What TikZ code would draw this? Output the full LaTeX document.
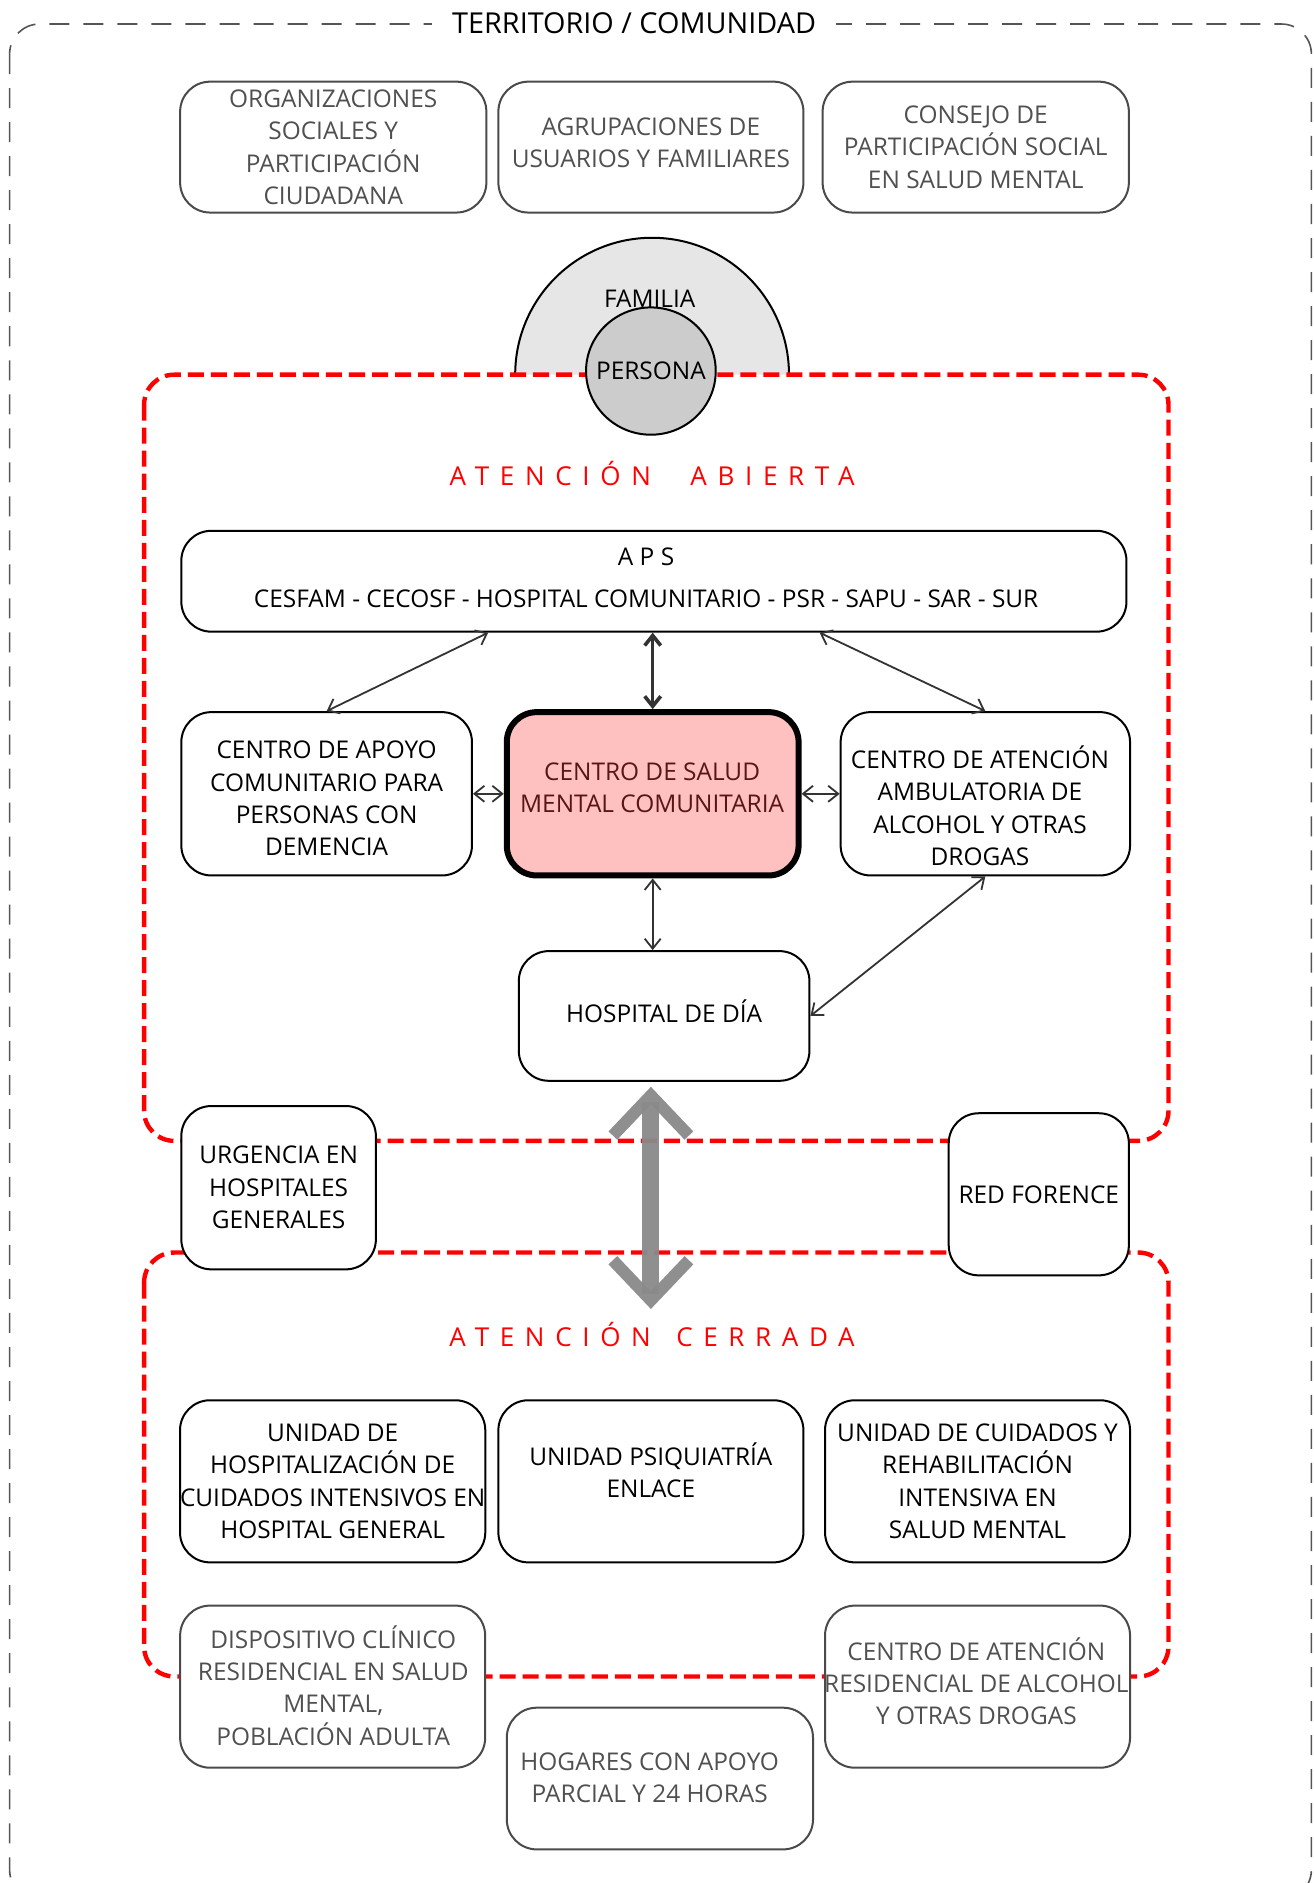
\documentclass[tikz,border=0pt]{standalone}
\usepackage{fontspec}
\setmainfont{Open Sans}
\usetikzlibrary{arrows.meta,shapes.geometric}
\def\pxu{0.6pt}
\newcommand\bodyf{\fontsize{12.2pt}{16.2pt}\selectfont}
\newcommand\titlef{\fontsize{14.4pt}{17pt}\selectfont}
\newcommand\headf{\fontsize{13pt}{15pt}\selectfont\addfontfeature{LetterSpace=41}}
\definecolor{txtgray}{HTML}{505050}
\definecolor{bordgray}{HTML}{4A4A4A}
\definecolor{outergray}{HTML}{555555}
\definecolor{conngray}{HTML}{333333}
\definecolor{famgray}{HTML}{E6E6E6}
\definecolor{persgray}{HTML}{CCCCCC}
\definecolor{csmcfill}{HTML}{FFC0C0}
\definecolor{csmctext}{HTML}{5A1414}
\definecolor{biggray}{HTML}{8A8A8A}
\begin{document}
\begin{tikzpicture}[x=0.6pt,y=-0.6pt,
  box/.style={draw=black, line width=1pt, rounded corners=15pt, fill=white, align=center, inner sep=0pt, font=\bodyf},
  gbox/.style={box, draw=bordgray, text=txtgray},
  txt/.style={align=center, inner sep=0pt, font=\bodyf},
  conn/.style={draw=conngray, line width=0.9pt, {Straight Barb[length=5pt,width=8pt]}-{Straight Barb[length=5pt,width=8pt]}},
  reddash/.style={draw=red, line width=2.2pt, dash pattern=on 8pt off 3.5pt, rounded corners=15pt},
  outerline/.style={draw=outergray, line width=0.8pt, dash pattern=on 10pt off 7pt, rounded corners=15pt},
  heading/.style={text=red, font=\headf, inner sep=0pt},
  bigarrow/.style={draw=biggray, line width=8.4pt, {Straight Barb[length=20pt,width=38pt,line width=6pt]}-{Straight Barb[length=20pt,width=38pt,line width=6pt]}}
]
\useasboundingbox (0,0) rectangle (1094,1568);
\fill[white] (0,0) rectangle (1094,1568);

% outer territory frame
\draw[outerline] (8,20) rectangle (1092,1582);
\node[fill=white, inner xsep=10pt, inner ysep=2pt, font=\titlef] (title) at (528,19) {TERRITORIO / COMUNIDAD};

% top community boxes
\node[gbox, minimum width=255*\pxu, minimum height=109*\pxu] (org) at (277.5,122.5) {ORGANIZACIONES\\SOCIALES Y\\PARTICIPACIÓN\\CIUDADANA};
\node[gbox, minimum width=254*\pxu, minimum height=109*\pxu] (agr) at (542,122.5) {};
\node[txt, text=txtgray] (agrt) at (542,119) {AGRUPACIONES DE\\USUARIOS Y FAMILIARES};
\node[gbox, minimum width=255*\pxu, minimum height=109*\pxu] (con) at (812.5,122.5) {CONSEJO DE\\PARTICIPACIÓN SOCIAL\\EN SALUD MENTAL};

% familia half disc
\fill[famgray] (429,312) arc[start angle=180,end angle=0,radius=68.4pt] -- cycle;
\draw[line width=1pt] (429,312) arc[start angle=180,end angle=0,radius=68.4pt];
\node[font=\bodyf] (familia) at (541,249) {FAMILIA};

% red dashed areas
\draw[reddash] (120,312) rectangle (973,950);
\draw[reddash] (120,1043) rectangle (973,1396);

\filldraw[fill=persgray, draw=black, line width=1pt] (542,309) ellipse [x radius=32.4pt, y radius=31.8pt];
\node[font=\bodyf, inner sep=0pt] (persona) at (542,309) {PERSONA};

\node[heading] (abierta) at (543,394) {ATENCIÓN\hspace{11pt} ABIERTA};
\node[heading] (cerrada) at (543,1111) {ATENCIÓN\hspace{4pt} CERRADA};

% atención abierta
\node[box, minimum width=787*\pxu, minimum height=84*\pxu] (aps) at (544.5,484) {};
\node[txt] (apst) at (538,481) {A P S\\[5pt]CESFAM - CECOSF - HOSPITAL COMUNITARIO - PSR - SAPU - SAR - SUR};
\node[box, minimum width=242*\pxu, minimum height=136*\pxu] (apoyo) at (272,661) {};
\node[txt] (apoyot) at (272,665) {CENTRO DE APOYO\\COMUNITARIO PARA\\PERSONAS CON\\DEMENCIA};
\node[box, line width=3pt, fill=csmcfill, minimum width=243*\pxu, minimum height=136*\pxu] (csmc) at (543.5,661) {};
\node[txt, text=csmctext] (csmct) at (543,656) {CENTRO DE SALUD\\MENTAL COMUNITARIA};
\node[box, minimum width=241*\pxu, minimum height=136*\pxu] (caa) at (820.5,661) {};
\node[txt] (caat) at (816,671) {CENTRO DE ATENCIÓN\\AMBULATORIA DE\\ALCOHOL Y OTRAS\\DROGAS};
\node[box, minimum width=242*\pxu, minimum height=108*\pxu] (hd) at (553,846) {};
\node[txt] (hdt) at (553,842) {HOSPITAL DE DÍA};

% between
\node[box, minimum width=162*\pxu, minimum height=136*\pxu] (urg) at (232,989) {URGENCIA EN\\HOSPITALES\\GENERALES};
\node[box, minimum width=150*\pxu, minimum height=135*\pxu] (red) at (865,994.5) {RED FORENCE};

% atención cerrada
\node[box, minimum width=254*\pxu, minimum height=135*\pxu] (uh) at (277,1233.5) {UNIDAD DE\\HOSPITALIZACIÓN DE\\CUIDADOS INTENSIVOS EN\\HOSPITAL GENERAL};
\node[box, minimum width=254*\pxu, minimum height=135*\pxu] (upe) at (542,1233.5) {};
\node[txt] (upet) at (542,1224.5) {UNIDAD PSIQUIATRÍA\\ENLACE};
\node[box, minimum width=254*\pxu, minimum height=135*\pxu] (ucr) at (814,1233.5) {UNIDAD DE CUIDADOS Y\\REHABILITACIÓN\\INTENSIVA EN\\SALUD MENTAL};
\node[gbox, minimum width=254*\pxu, minimum height=135*\pxu] (disp) at (277,1404.5) {};
\node[txt, text=txtgray] (dispt) at (277.5,1403.5) {DISPOSITIVO CLÍNICO\\RESIDENCIAL EN SALUD\\MENTAL,\\POBLACIÓN ADULTA};
\node[gbox, minimum width=254*\pxu, minimum height=135*\pxu] (car) at (814,1404.5) {};
\node[txt, text=txtgray] (cart) at (813,1400) {CENTRO DE ATENCIÓN\\RESIDENCIAL DE ALCOHOL\\Y OTRAS DROGAS};
\node[gbox, minimum width=255*\pxu, minimum height=118*\pxu] (hog) at (549.5,1481) {};
\node[txt, text=txtgray] (hogt) at (541,1480.5) {HOGARES CON APOYO\\PARCIAL Y 24 HORAS};

% connectors
\draw[conn] ([xshift=-138*\pxu]aps.south) -- (apoyo.north);
\draw[conn, line width=1.8pt] (aps.south -| csmc.north) -- (csmc.north);
\draw[conn] ([xshift=138*\pxu]aps.south) -- (caa.north);
\draw[conn] (apoyo.east) -- (csmc.west);
\draw[conn] (csmc.east) -- (caa.west);
\draw[conn] (csmc.south) -- (hd.north -| csmc.south);
\draw[conn] (caa.south) -- (hd.east);

\coordinate (ga1) at (542,905);
\coordinate (ga2) at (542,1090);
\draw[bigarrow, opacity=0.95] (ga1) -- (ga2);
\end{tikzpicture}
\end{document}
